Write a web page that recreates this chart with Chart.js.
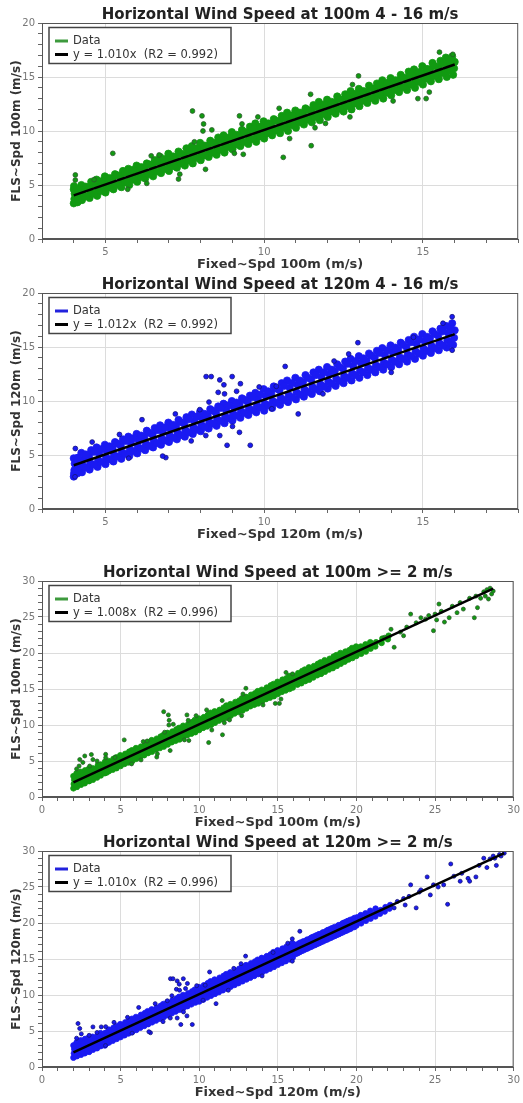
<!DOCTYPE html>
<html>
<head>
<meta charset="utf-8">
<script src="https://cdn.jsdelivr.net/npm/chart.js@4.4.1/dist/chart.umd.min.js"></script>
<style>
  body { margin: 0; background: #fff; }
  .panel { position: absolute; left: 0; width: 523px; height: 275px; }
</style>
</head>
<body>
<div class="panel" style="top:0px"><canvas id="c1"></canvas></div>
<div class="panel" style="top:270px"><canvas id="c2"></canvas></div>
<div class="panel" style="top:558px"><canvas id="c3"></canvas></div>
<div class="panel" style="top:828px"><canvas id="c4"></canvas></div>
<script>
// titles and labels
const titles = ["Horizontal Wind Speed at 100m 4 - 16 m/s", "Horizontal Wind Speed at 120m 4 - 16 m/s",
                "Horizontal Wind Speed at 100m >= 2 m/s", "Horizontal Wind Speed at 120m >= 2 m/s"];
const xTitles = ["Fixed~Spd 100m (m/s)", "Fixed~Spd 120m (m/s)", "Fixed~Spd 100m (m/s)", "Fixed~Spd 120m (m/s)"];
const yTitles = ["FLS~Spd 100m (m/s)", "FLS~Spd 120m (m/s)", "FLS~Spd 100m (m/s)", "FLS~Spd 120m (m/s)"];
const fitLabels = ["y = 1.010x  (R2 = 0.992)", "y = 1.012x  (R2 = 0.992)",
                   "y = 1.008x  (R2 = 0.996)", "y = 1.010x  (R2 = 0.996)"];
// regression line end points [x, y]
const fitEnds = [[[4, 4.04], [16, 16.16]], [[4, 4.05], [16, 16.19]],
                 [[2, 2.02], [28.7, 28.93]], [[2, 2.02], [29.4, 29.69]]];
const xRanges = [[3, 18], [3, 18], [0, 30], [0, 30]];
const yRanges = [[0, 20], [0, 20], [0, 30], [0, 30]];
const majorStep = 5;

// 100m: [Fixed, FLS] main band
const band100 = [
  [2.0,1.2],[2.02,1.8],[2.05,2.4],[2.0,2.9],
  [2.22,1.4],[2.25,2.1],[2.28,2.6],[2.2,3.3],
  [2.48,1.7],[2.5,2.2],[2.55,2.9],[2.46,3.5],
  [2.72,1.9],[2.76,2.5],[2.8,3.1],[2.74,3.7],
  [3.0,2.2],[3.02,2.7],[3.05,3.4],[2.98,3.9],
  [3.24,2.4],[3.27,3.0],[3.3,3.6],[3.22,4.0],
  [3.5,2.7],[3.52,3.3],[3.48,3.9],[3.55,4.4],
  [3.74,3.0],[3.77,3.5],[3.8,4.1],[3.72,4.5],
  [4.0,3.3],[4.02,3.7],[4.03,4.2],[4.0,4.6],[4.01,4.9],
  [4.12,3.4],[4.15,4.0],[4.1,4.5],
  [4.26,3.6],[4.28,4.1],[4.3,4.6],[4.24,5.0],
  [4.5,3.8],[4.52,4.3],[4.48,4.8],[4.55,5.3],
  [4.74,4.0],[4.77,4.6],[4.8,5.0],[4.72,5.5],
  [5.0,4.3],[5.02,4.8],[5.04,5.3],[4.98,5.8],
  [5.25,4.6],[5.27,5.0],[5.22,5.6],[5.3,6.0],
  [5.5,4.8],[5.52,5.3],[5.48,5.8],[5.55,6.3],
  [5.75,5.0],[5.77,5.6],[5.8,6.1],[5.72,6.5],
  [6.0,5.3],[6.02,5.8],[6.05,6.3],[5.98,6.8],
  [6.25,5.6],[6.27,6.1],[6.22,6.5],[6.3,7.0],
  [6.5,5.8],[6.52,6.3],[6.48,6.9],[6.55,7.3],
  [6.75,6.1],[6.77,6.6],[6.8,7.1],[6.72,7.6],
  [7.0,6.3],[7.02,6.8],[7.05,7.3],[6.98,7.9],
  [7.25,6.6],[7.27,7.1],[7.22,7.6],[7.3,8.1],
  [7.5,6.8],[7.52,7.3],[7.48,7.8],[7.55,8.4],
  [7.75,7.0],[7.77,7.6],[7.8,8.1],[7.72,8.6],
  [8.0,7.3],[8.02,7.8],[8.05,8.4],[7.98,8.9],
  [8.25,7.6],[8.27,8.1],[8.22,8.6],[8.3,9.1],
  [8.5,7.8],[8.52,8.3],[8.48,8.9],[8.55,9.4],
  [8.75,8.0],[8.77,8.6],[8.8,9.1],[8.72,9.6],
  [9.0,8.3],[9.02,8.8],[9.05,9.4],[8.98,9.9],
  [9.25,8.6],[9.27,9.1],[9.22,9.6],[9.3,10.1],
  [9.5,8.8],[9.52,9.3],[9.48,9.9],[9.55,10.4],
  [9.75,9.0],[9.77,9.6],[9.8,10.1],[9.72,10.7],
  [10.0,9.3],[10.02,9.8],[10.05,10.4],[9.98,10.9],
  [10.25,9.6],[10.27,10.1],[10.22,10.6],[10.3,11.1],
  [10.5,9.8],[10.52,10.3],[10.48,10.9],[10.55,11.4],
  [10.75,10.0],[10.77,10.6],[10.8,11.1],[10.72,11.7],
  [11.0,10.3],[11.02,10.8],[11.05,11.4],[10.98,11.9],
  [11.25,10.6],[11.27,11.1],[11.22,11.6],[11.3,12.1],
  [11.5,10.8],[11.52,11.3],[11.48,11.9],[11.55,12.4],
  [11.75,11.0],[11.77,11.6],[11.8,12.1],[11.72,12.7],
  [12.0,11.3],[12.02,11.8],[12.05,12.4],[11.98,12.9],
  [12.25,11.6],[12.27,12.1],[12.22,12.6],[12.3,13.2],
  [12.5,11.8],[12.52,12.3],[12.48,12.9],[12.55,13.4],
  [12.75,12.0],[12.77,12.6],[12.8,13.1],[12.72,13.7],
  [13.0,12.3],[13.02,12.8],[13.05,13.4],[12.98,13.9],
  [13.25,12.6],[13.27,13.1],[13.22,13.6],[13.3,14.2],
  [13.5,12.8],[13.52,13.4],[13.48,13.9],[13.55,14.4],
  [13.75,13.0],[13.77,13.6],[13.8,14.2],[13.72,14.7],
  [14.0,13.3],[14.02,13.9],[14.05,14.4],[13.98,14.9],
  [14.25,13.6],[14.27,14.1],[14.22,14.7],[14.3,15.2],
  [14.5,13.8],[14.52,14.4],[14.48,14.9],[14.55,15.5],
  [14.75,14.0],[14.77,14.6],[14.8,15.2],[14.72,15.7],
  [15.0,14.3],[15.02,14.9],[15.05,15.4],[14.98,16.0],
  [15.25,14.6],[15.27,15.1],[15.22,15.7],[15.3,16.3],
  [15.5,14.8],[15.52,15.4],[15.48,15.9],[15.55,16.5],
  [15.75,15.0],[15.77,15.6],[15.8,16.2],[15.72,16.8],
  [15.95,15.2],[15.98,15.8],[16.0,16.4],[15.92,16.9],
  [16.25,15.6],[16.27,16.2],[16.22,16.7],[16.3,17.2],
  [16.5,15.8],[16.52,16.4],[16.48,16.9],[16.55,17.5],
  [16.75,16.1],[16.77,16.6],[16.8,17.2],[16.72,17.7],
  [17.0,16.3],[17.02,16.9],[17.05,17.5],[16.98,18.0],
  [17.25,16.6],[17.27,17.2],[17.22,17.7],[17.3,18.2],
  [17.5,16.9],[17.52,17.4],[17.48,17.9],[17.55,18.5],
  [17.75,17.1],[17.77,17.7],[17.8,18.2],[17.72,18.7],
  [18.0,17.4],[18.02,17.9],[18.05,18.5],[17.98,19.0],
  [18.25,17.7],[18.27,18.2],[18.22,18.7],[18.3,19.2],
  [18.5,17.9],[18.52,18.5],[18.48,18.9],[18.55,19.5],
  [18.75,18.2],[18.77,18.7],[18.8,19.2],[18.72,19.7],
  [19.0,18.5],[19.02,19.0],[19.05,19.5],[18.98,20.0],
  [19.25,18.8],[19.27,19.3],[19.22,19.7],[19.3,20.2],
  [19.5,19.1],[19.52,19.5],[19.48,20.0],[19.55,20.4],
  [19.75,19.3],[19.77,19.8],[19.8,20.3],[19.72,20.7],
  [20.0,19.6],[20.02,20.0],[20.05,20.5],[19.98,20.9],
  [20.3,19.9],[20.32,20.4],[20.28,20.9],
  [20.6,20.2],[20.62,20.8],[20.58,21.2],
  [20.9,20.6],[20.92,21.1],[20.88,21.5],
  [21.2,20.9],[21.25,21.5],
  [21.6,21.4],[21.65,22.0],
  [22.0,21.9],[22.05,22.4]
];
// 100m: in-between points filling the band
const fill100 = [
  [2.125,1.7],[2.125,2.6],[2.375,1.95],[2.375,2.85],[2.625,2.2],[2.625,3.1],[2.875,2.45],[2.875,3.35],
  [3.125,2.7],[3.125,3.6],[3.375,2.95],[3.375,3.85],[3.625,3.2],[3.625,4.1],[3.875,3.45],[3.875,4.35],
  [4.125,3.7],[4.125,4.6],[4.375,3.95],[4.375,4.85],[4.625,4.2],[4.625,5.1],[4.875,4.45],[4.875,5.35],
  [5.125,4.75],[5.125,5.65],[5.375,5.0],[5.375,5.9],[5.625,5.25],[5.625,6.15],[5.875,5.5],[5.875,6.4],
  [6.125,5.75],[6.125,6.65],[6.375,6.0],[6.375,6.9],[6.625,6.25],[6.625,7.15],[6.875,6.5],[6.875,7.4],
  [7.125,6.75],[7.125,7.65],[7.375,7.0],[7.375,7.9],[7.625,7.25],[7.625,8.15],[7.875,7.5],[7.875,8.4],
  [8.125,7.75],[8.125,8.65],[8.375,8.0],[8.375,8.9],[8.625,8.25],[8.625,9.15],[8.875,8.5],[8.875,9.4],
  [9.125,8.75],[9.125,9.65],[9.375,9.0],[9.375,9.9],[9.625,9.25],[9.625,10.15],[9.875,9.5],[9.875,10.4],
  [10.125,9.8],[10.125,10.7],[10.375,10.05],[10.375,10.95],[10.625,10.3],[10.625,11.2],[10.875,10.55],[10.875,11.45],
  [11.125,10.8],[11.125,11.7],[11.375,11.05],[11.375,11.95],[11.625,11.3],[11.625,12.2],[11.875,11.55],[11.875,12.45],
  [12.125,11.8],[12.125,12.7],[12.375,12.05],[12.375,12.95],[12.625,12.3],[12.625,13.2],[12.875,12.55],[12.875,13.45],
  [13.125,12.8],[13.125,13.7],[13.375,13.05],[13.375,13.95],[13.625,13.3],[13.625,14.2],[13.875,13.55],[13.875,14.45],
  [14.125,13.8],[14.125,14.7],[14.375,14.05],[14.375,14.95],[14.625,14.3],[14.625,15.2],[14.875,14.55],[14.875,15.45],
  [15.125,14.85],[15.125,15.75],[15.375,15.1],[15.375,16.0],[15.625,15.35],[15.625,16.25],[15.875,15.6],[15.875,16.5],
  [16.125,15.85],[16.125,16.75],[16.375,16.1],[16.375,17.0],[16.625,16.35],[16.625,17.25],[16.875,16.6],[16.875,17.5],
  [17.125,16.85],[17.125,17.75],[17.375,17.1],[17.375,18.0],[17.625,17.35],[17.625,18.25],[17.875,17.6],[17.875,18.5],
  [18.125,17.85],[18.125,18.75],[18.375,18.1],[18.375,19.0],[18.625,18.35],[18.625,19.25],[18.875,18.6],[18.875,19.5],
  [19.125,18.85],[19.125,19.75],[19.375,19.1],[19.375,20.0],[19.625,19.35],[19.625,20.25],[19.875,19.6],[19.875,20.5]
];
// 100m: scattered points away from the band
const outliers100 = [
  [7.74,11.85],[8.04,11.4],[8.09,10.65],[8.07,10.0],[8.35,10.1],[9.22,11.4],[9.8,11.3],[9.3,10.65],
  [5.23,7.93],[4.05,5.93],[4.05,5.46],[7.3,5.55],[8.15,6.45],[7.8,9.0],[9.06,7.93],[9.34,7.84],
  [6.44,7.7],[6.69,7.78],[5.7,4.6],[6.3,5.15],[4.64,5.5],[7.34,6.0],
  [15.52,17.3],[15.94,17.1],[12.97,15.1],[12.78,14.3],[11.46,13.4],[10.47,12.1],[11.6,10.3],
  [11.48,8.64],[10.6,7.56],[10.8,9.3],[14.84,13.0],[15.1,13.0],[15.2,13.6],[12.7,11.3],
  [14.06,12.78],[11.93,10.7],
  [2.4,5.2],[2.72,5.7],[3.14,5.9],[3.24,5.2],[2.36,4.3],[3.03,4.3],[2.6,4.8],[2.2,3.9],[3.5,5.0],
  [22.2,23.3],[21.8,22.2],[22.4,20.8],[22.8,22.9],[23.2,23.6],[23.45,25.4],[23.0,22.4],[23.8,24.2],
  [24.1,24.9],[24.4,24.7],[24.6,25.2],[24.9,23.1],[25.0,25.4],[25.1,24.6],[25.25,26.8],[25.4,25.8],
  [25.6,24.3],[25.9,24.9],[26.1,26.5],[26.4,25.6],[26.6,27.0],[26.8,26.1],[27.2,27.6],[27.5,24.9],
  [27.6,27.9],[27.7,26.3],[27.9,27.6],[28.1,28.5],[28.2,27.9],[28.3,28.8],[28.4,27.5],[28.5,29.0],
  [28.6,28.2],[28.7,28.6]
];

// 120m: [Fixed, FLS] main band
const band120 = [
  [2.0,1.3],[2.03,1.9],[2.05,2.5],[2.0,3.0],
  [2.22,1.5],[2.25,2.1],[2.28,2.7],[2.2,3.4],
  [2.48,1.7],[2.5,2.3],[2.55,3.0],[2.46,3.7],
  [2.72,1.9],[2.76,2.6],[2.8,3.2],[2.74,3.9],
  [3.0,2.1],[3.02,2.8],[3.05,3.4],[2.98,4.1],
  [3.24,2.4],[3.27,3.0],[3.3,3.7],[3.22,4.2],
  [3.5,2.6],[3.52,3.3],[3.48,3.9],[3.55,4.5],
  [3.74,2.9],[3.77,3.5],[3.8,4.1],[3.72,4.7],
  [4.0,3.0],[4.02,3.6],[4.03,4.2],[4.0,4.7],[4.01,3.3],
  [4.12,3.3],[4.15,3.9],[4.1,4.6],
  [4.26,3.4],[4.28,4.0],[4.3,4.6],[4.24,5.2],
  [4.5,3.65],[4.52,4.25],[4.48,4.85],[4.55,5.45],
  [4.75,3.9],[4.77,4.5],[4.8,5.1],[4.72,5.7],
  [5.0,4.15],[5.02,4.75],[5.04,5.35],[4.98,5.95],
  [5.25,4.4],[5.27,5.0],[5.22,5.6],[5.3,6.2],
  [5.5,4.65],[5.52,5.25],[5.48,5.85],[5.55,6.45],
  [5.75,4.9],[5.77,5.5],[5.8,6.1],[5.72,6.7],
  [6.0,5.15],[6.02,5.75],[6.05,6.35],[5.98,6.95],
  [6.25,5.45],[6.27,6.05],[6.22,6.65],[6.3,7.25],
  [6.5,5.7],[6.52,6.3],[6.48,6.9],[6.55,7.5],
  [6.75,5.95],[6.77,6.55],[6.8,7.15],[6.72,7.75],
  [7.0,6.2],[7.02,6.8],[7.05,7.4],[6.98,8.0],
  [7.25,6.45],[7.27,7.05],[7.22,7.65],[7.3,8.25],
  [7.5,6.7],[7.52,7.3],[7.48,7.9],[7.55,8.5],
  [7.75,6.95],[7.77,7.55],[7.8,8.15],[7.72,8.75],
  [8.0,7.2],[8.02,7.8],[8.05,8.4],[7.98,9.0],
  [8.25,7.45],[8.27,8.05],[8.22,8.65],[8.3,9.25],
  [8.5,7.7],[8.52,8.3],[8.48,8.9],[8.55,9.5],
  [8.75,7.95],[8.77,8.55],[8.8,9.15],[8.72,9.75],
  [9.0,8.2],[9.02,8.8],[9.05,9.4],[8.98,10.0],
  [9.25,8.45],[9.27,9.05],[9.22,9.65],[9.3,10.25],
  [9.5,8.7],[9.52,9.3],[9.48,9.9],[9.55,10.5],
  [9.75,8.95],[9.77,9.55],[9.8,10.15],[9.72,10.75],
  [10.0,9.1],[10.02,9.75],[10.05,10.45],[9.98,11.1],
  [10.25,9.35],[10.27,10.0],[10.22,10.7],[10.3,11.35],
  [10.5,9.65],[10.52,10.3],[10.48,11.0],[10.55,11.65],
  [10.75,9.9],[10.77,10.55],[10.8,11.25],[10.72,11.9],
  [11.0,10.15],[11.02,10.8],[11.05,11.5],[10.98,12.15],
  [11.25,10.4],[11.27,11.05],[11.22,11.75],[11.3,12.4],
  [11.5,10.65],[11.52,11.3],[11.48,12.0],[11.55,12.65],
  [11.75,10.9],[11.77,11.55],[11.8,12.25],[11.72,12.9],
  [12.0,11.15],[12.02,11.8],[12.05,12.5],[11.98,13.15],
  [12.25,11.4],[12.27,12.05],[12.22,12.75],[12.3,13.4],
  [12.5,11.65],[12.52,12.3],[12.48,13.0],[12.55,13.65],
  [12.75,11.9],[12.77,12.55],[12.8,13.25],[12.72,13.9],
  [13.0,12.15],[13.02,12.8],[13.05,13.5],[12.98,14.15],
  [13.25,12.4],[13.27,13.05],[13.22,13.75],[13.3,14.4],
  [13.5,12.65],[13.52,13.3],[13.48,14.0],[13.55,14.65],
  [13.75,12.9],[13.77,13.55],[13.8,14.25],[13.72,14.9],
  [14.0,13.15],[14.02,13.8],[14.05,14.5],[13.98,15.15],
  [14.25,13.4],[14.27,14.05],[14.22,14.75],[14.3,15.4],
  [14.5,13.65],[14.52,14.3],[14.48,15.0],[14.55,15.65],
  [14.75,13.9],[14.77,14.6],[14.8,15.3],[14.72,15.95],
  [15.0,14.2],[15.02,14.85],[15.05,15.55],[14.98,16.2],
  [15.25,14.45],[15.27,15.1],[15.22,15.8],[15.3,16.45],
  [15.5,14.7],[15.52,15.35],[15.48,16.05],[15.55,16.7],
  [15.75,14.95],[15.77,15.6],[15.8,16.3],[15.72,16.95],
  [15.95,15.2],[15.98,15.85],[16.0,16.55],[15.92,17.2],
  [16.25,15.8],[16.27,16.45],[16.22,17.0],
  [16.5,16.1],[16.52,16.7],[16.48,17.3],
  [16.75,16.35],[16.77,16.95],[16.8,17.55],
  [17.0,16.6],[17.02,17.2],[17.05,17.8],
  [17.25,16.85],[17.27,17.45],[17.22,18.05],
  [17.5,17.1],[17.52,17.7],[17.48,18.3],
  [17.75,17.35],[17.77,17.95],[17.8,18.55],
  [18.0,17.6],[18.02,18.2],[18.05,18.8],
  [18.25,17.85],[18.27,18.45],[18.22,19.05],
  [18.5,18.1],[18.52,18.7],[18.48,19.3],
  [18.75,18.35],[18.77,18.95],[18.8,19.55],
  [19.0,18.6],[19.02,19.2],[19.05,19.8],
  [19.25,18.85],[19.27,19.5],[19.22,20.05],
  [19.5,19.1],[19.52,19.75],[19.48,20.3],
  [19.75,19.4],[19.77,20.0],[19.8,20.55],
  [20.0,19.65],[20.02,20.25],[20.05,20.8],
  [20.3,19.95],[20.32,20.5],[20.28,21.1],
  [20.6,20.3],[20.62,20.85],[20.58,21.35],
  [20.9,20.6],[20.92,21.15],[20.88,21.7],
  [21.2,20.9],[21.25,21.5],[21.22,22.0],
  [21.5,21.3],[21.55,21.8],
  [21.8,21.6],[21.85,22.2],
  [22.1,22.0],[22.15,22.5]
];
// 120m: in-between points filling the band
const fill120 = [
  [2.125,1.55],[2.125,2.75],[2.375,1.8],[2.375,3.0],[2.625,2.05],[2.625,3.25],[2.875,2.3],[2.875,3.5],
  [3.125,2.55],[3.125,3.75],[3.375,2.8],[3.375,4.0],[3.625,3.05],[3.625,4.25],[3.875,3.3],[3.875,4.5],
  [4.125,3.55],[4.125,4.75],[4.375,3.85],[4.375,5.05],[4.625,4.1],[4.625,5.3],[4.875,4.35],[4.875,5.55],
  [5.125,4.6],[5.125,5.8],[5.375,4.85],[5.375,6.05],[5.625,5.1],[5.625,6.3],[5.875,5.35],[5.875,6.55],
  [6.125,5.6],[6.125,6.8],[6.375,5.85],[6.375,7.05],[6.625,6.1],[6.625,7.3],[6.875,6.35],[6.875,7.55],
  [7.125,6.6],[7.125,7.8],[7.375,6.85],[7.375,8.05],[7.625,7.1],[7.625,8.3],[7.875,7.35],[7.875,8.55],
  [8.125,7.6],[8.125,8.8],[8.375,7.9],[8.375,9.1],[8.625,8.15],[8.625,9.35],[8.875,8.4],[8.875,9.6],
  [9.125,8.65],[9.125,9.85],[9.375,8.9],[9.375,10.1],[9.625,9.15],[9.625,10.35],[9.875,9.4],[9.875,10.6],
  [10.125,9.6],[10.125,10.9],[10.375,9.85],[10.375,11.15],[10.625,10.1],[10.625,11.4],[10.875,10.35],[10.875,11.65],
  [11.125,10.6],[11.125,11.9],[11.375,10.85],[11.375,12.15],[11.625,11.1],[11.625,12.4],[11.875,11.35],[11.875,12.65],
  [12.125,11.6],[12.125,12.9],[12.375,11.85],[12.375,13.15],[12.625,12.15],[12.625,13.45],[12.875,12.4],[12.875,13.7],
  [13.125,12.65],[13.125,13.95],[13.375,12.9],[13.375,14.2],[13.625,13.15],[13.625,14.45],[13.875,13.4],[13.875,14.7],
  [14.125,13.65],[14.125,14.95],[14.375,13.9],[14.375,15.2],[14.625,14.15],[14.625,15.45],[14.875,14.4],[14.875,15.7],
  [15.125,14.65],[15.125,15.95],[15.375,14.9],[15.375,16.2],[15.625,15.15],[15.625,16.45],[15.875,15.4],[15.875,16.7],
  [16.125,15.7],[16.125,16.95],[16.375,15.95],[16.375,17.2],[16.625,16.2],[16.625,17.45],[16.875,16.45],[16.875,17.7],
  [17.125,16.7],[17.125,17.95],[17.375,16.95],[17.375,18.2],[17.625,17.2],[17.625,18.45],[17.875,17.45],[17.875,18.7],
  [18.125,17.7],[18.125,18.95],[18.375,17.95],[18.375,19.2],[18.625,18.2],[18.625,19.45],[18.875,18.45],[18.875,19.7],
  [19.125,18.7],[19.125,19.95],[19.375,18.95],[19.375,20.2],[19.625,19.2],[19.625,20.45],[19.875,19.45],[19.875,20.7]
];
// 120m: scattered points away from the band
const outliers120 = [
  [8.17,12.26],[8.33,12.26],[8.6,11.95],[8.99,12.26],[8.73,11.5],[9.25,11.6],[8.55,10.8],[8.75,10.66],
  [9.13,10.9],[8.26,9.9],[9.84,11.3],[10.38,11.36],[8.83,5.9],[9.56,5.9],[9.22,7.1],[9.0,7.65],
  [6.9,4.76],[6.15,8.27],[7.2,8.8],[8.16,6.8],[4.05,5.6],[4.04,2.98],[4.58,6.2],[5.44,6.9],
  [5.73,4.7],[7.7,6.3],[8.6,6.8],[7.97,9.2],[6.8,4.9],
  [15.92,17.8],[15.63,17.2],[12.95,15.4],[10.66,13.2],[11.07,8.8],[10.24,9.28],[11.85,10.66],
  [14.0,12.65],[15.92,14.7],[14.7,15.9],[12.66,14.35],[12.2,13.7],[16.4,18.85],
  [2.29,6.04],[2.4,5.35],[3.24,5.57],[3.77,5.57],[2.5,4.6],[3.0,4.4],[2.2,4.0],[3.5,4.8],
  [22.4,22.1],[22.6,23.0],[23.0,23.4],[23.1,22.5],[23.35,23.7],[23.45,25.3],[23.8,22.1],[24.0,24.3],
  [24.1,24.6],[24.5,26.4],[24.7,23.9],[24.9,25.3],[25.2,25.0],[25.55,25.3],[25.8,22.6],[26.0,28.2],
  [26.2,26.5],[26.6,25.8],[26.7,26.9],[27.1,26.2],[27.2,25.8],[27.6,26.4],[27.8,28.0],[28.1,29.0],
  [28.3,27.7],[28.5,28.9],[28.7,29.3],[28.8,29.0],[28.9,28.0],[29.1,29.5],[29.2,29.3],[29.4,29.7]
];

const inRange = p => p[0] >= 4 && p[0] <= 16;
const bands = [band100.concat(fill100).filter(inRange), band120.concat(fill120).filter(inRange),
               band100.concat(fill100), band120.concat(fill120)];
const strays = [outliers100.filter(inRange), outliers120.filter(inRange), outliers100, outliers120];
const fills = ['#119a11', '#1a1af2', '#119a11', '#1a1af2'];
const edges = ['#2d5a2d', '#14147a', '#2d5a2d', '#14147a'];
const swatches = ['#3d9a3d', '#2222dd', '#3d9a3d', '#2222dd'];
const bandRadii = [3.6, 3.6, 2.8, 2.8];
const strayRadii = [2.4, 2.4, 2.0, 2.0];
const rightPads = [3, 3, 5, 5];

Chart.defaults.font.family = '"DejaVu Sans", Verdana, sans-serif';

// frame round the plot area plus the boxed legend in the top left corner
const frameAndLegend = {
  id: 'frameAndLegend',
  afterDatasetsDraw(chart) {
    const {ctx, chartArea} = chart;
    ctx.save();
    ctx.strokeStyle = '#555';
    ctx.lineWidth = 1;
    ctx.strokeRect(chartArea.left + 0.5, chartArea.top + 0.5, chartArea.width - 1, chartArea.height - 1);
    const x = chartArea.left + 7, y = chartArea.top + 4.5;
    ctx.fillStyle = '#fff';
    ctx.fillRect(x, y, 182, 36);
    ctx.strokeStyle = '#444';
    ctx.lineWidth = 1.5;
    ctx.strokeRect(x, y, 182, 36);
    ctx.font = '11.5px "DejaVu Sans"';
    ctx.textBaseline = 'middle';
    chart.data.datasets.forEach((ds, i) => {
      const ly = y + 13.5 + i * 13.5;
      ctx.strokeStyle = ds.swatch;
      ctx.lineWidth = 3;
      ctx.beginPath();
      ctx.moveTo(x + 6, ly);
      ctx.lineTo(x + 19, ly);
      ctx.stroke();
      ctx.fillStyle = '#333';
      ctx.fillText(ds.label, x + 24, ly + 0.5);
    });
    ctx.restore();
  }
};

function axis(range, title, isY) {
  return {
    type: 'linear',
    min: range[0],
    max: range[1],
    border: { display: true, color: '#555' },
    grid: {
      color: c => (c.tick && c.tick.value % majorStep === 0) ? '#dcdcdc' : 'rgba(0,0,0,0)',
      tickColor: '#666',
      tickLength: 4,
      drawTicks: true
    },
    ticks: {
      stepSize: 1,
      autoSkip: false,
      maxRotation: 0,
      padding: 3,
      color: '#777',
      font: { size: 10 },
      callback: v => v % majorStep === 0 ? v : ''
    },
    title: {
      display: true,
      text: title,
      color: '#333',
      font: { size: isY ? 12 : 13, weight: 'bold' },
      padding: isY ? { top: 10, bottom: 0 } : { top: 0, bottom: 3 }
    },
    afterFit: s => { if (isY) s.width = 42; else s.height = 36; }
  };
}

for (let i = 0; i < 4; i++) {
  const ctx = document.getElementById('c' + (i + 1)).getContext('2d');
  const nBand = bands[i].length;
  const pts = bands[i].concat(strays[i]);
  new Chart(ctx, {
    type: 'scatter',
    data: {
      datasets: [{
        label: 'Data',
        data: pts.map(p => ({ x: p[0], y: p[1] })),
        backgroundColor: fills[i],
        borderColor: c => c.dataIndex < nBand ? fills[i] : edges[i],
        borderWidth: 0.8,
        pointRadius: c => c.dataIndex < nBand ? bandRadii[i] : strayRadii[i],
        swatch: swatches[i],
        order: 1
      }, {
        label: fitLabels[i],
        data: fitEnds[i].map(p => ({ x: p[0], y: p[1] })),
        showLine: true,
        borderColor: '#000',
        borderWidth: 2.5,
        pointRadius: 0,
        swatch: '#000',
        order: 0
      }]
    },
    options: {
      responsive: true,
      maintainAspectRatio: false,
      animation: false,
      events: [],
      layout: { padding: { left: 0, right: rightPads[i], top: 0, bottom: 0 } },
      plugins: {
        legend: { display: false },
        tooltip: { enabled: false },
        title: {
          display: true,
          text: titles[i],
          fullSize: false,
          color: '#222',
          font: { size: 15, weight: 'bold', lineHeight: 1 },
          padding: { top: 8, bottom: 0 }
        }
      },
      scales: {
        x: axis(xRanges[i], xTitles[i], false),
        y: axis(yRanges[i], yTitles[i], true)
      }
    },
    plugins: [frameAndLegend]
  });
}
</script>
</body>
</html>
